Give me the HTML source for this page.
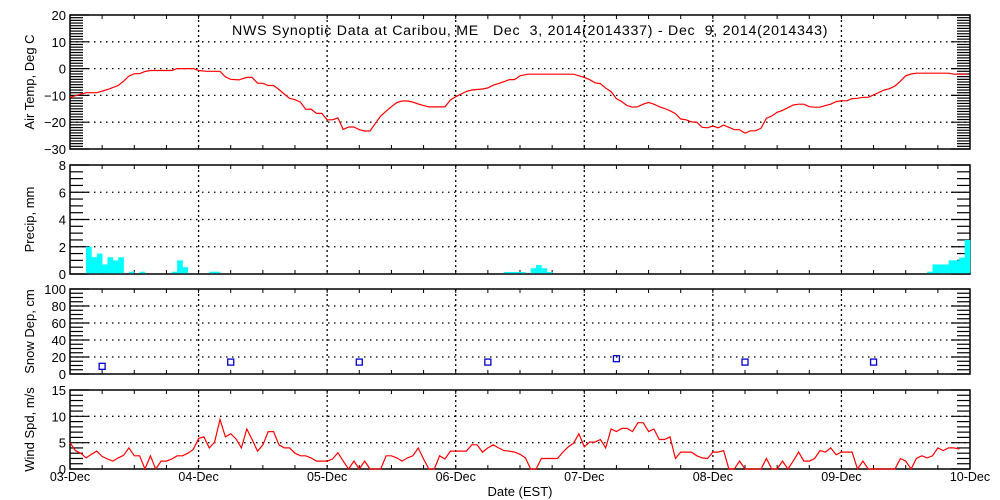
<!DOCTYPE html>
<html><head><meta charset="utf-8"><style>
html,body{margin:0;padding:0;background:#fff;}
svg{display:block;font-family:"Liberation Sans",sans-serif;}
</style></head><body>
<svg id="c" width="1000" height="500" viewBox="0 0 1000 500"></svg>
<script>
const dayLabels=["03-Dec","04-Dec","05-Dec","06-Dec","07-Dec","08-Dec","09-Dec","10-Dec"];
// Air temperature: [hour, degC]
const tempHours=[0,3,5,7,9,10,11,12,13,14,15,19,20,23,24,25.5,28,29,30,31.5,33,34,35,36,37,38,39,40,41,42,43,44,45,46,47,48,49,50,51,52,53,54,55,56,57,58,59,60,61,62,63,64,65,66,67,70,71,72,73,74,75,77,78,79,80,81,82,83,84,85.5,94,96,97,98,99,100,101,102,103,104,105,106,107,108,109,110,111,112,113,114,115,116,117,118,119,120,121,122,123,124,125,126,127,128,129,130,131,132,133,134,135,136,137,138,139,140,141,142,143,144,145,146,147,148,149,150,151,152,153,154,155,156,157,158,164,165,167.5];
const tempVals=[-10.7,-9,-9,-7.8,-6.3,-4.7,-2.8,-1.9,-1.9,-1.1,-0.7,-0.7,0,0,-0.7,-1,-1,-3.1,-4,-4.2,-3.3,-3.3,-5.4,-5.5,-6.3,-6.3,-7.8,-9.5,-11.1,-11.6,-12.5,-15.2,-15.1,-16.7,-16.7,-19.1,-19.1,-18.4,-22.7,-21.8,-21.8,-22.8,-23.3,-23.3,-20.4,-17.7,-15.9,-14.2,-12.7,-12.1,-12.1,-12.5,-13.2,-13.8,-14.3,-14.3,-11.7,-10.5,-9.5,-8.5,-8,-7.6,-7.2,-6.2,-5.6,-4.9,-4.1,-4.1,-2.7,-2.1,-2.1,-3.3,-4.1,-5.3,-5.6,-7.3,-8.6,-11.2,-12.3,-13.8,-14.4,-14.2,-13.3,-12.6,-13.3,-14.2,-14.9,-15.7,-16.8,-18.8,-19.1,-19.9,-20,-21.9,-22.1,-21.4,-22.1,-21.1,-21.9,-22.8,-22.8,-24.1,-23.2,-23.2,-22.2,-18.5,-17.7,-16.3,-15.6,-14.6,-13.6,-13.3,-13.3,-14.2,-14.4,-14.4,-13.8,-13.3,-12.3,-12,-12,-11.2,-11.1,-10.7,-10.7,-9.8,-8.9,-8,-7.5,-6.5,-4.7,-2.7,-2,-1.7,-1.7,-2.1,-2.1];
// Precip hourly bins
const precipHours=[3,4,5,6,7,8,9,11,13,19,20,21,26,27,81,82,83,84,86,87,88,89,160,161,162,163,164,165,166,167];
const precipVals=[2.0,1.23,1.5,0.7,1.23,1.0,1.23,0.17,0.17,0.17,1.0,0.5,0.17,0.17,0.15,0.15,0.15,0.15,0.42,0.66,0.42,0.15,0.17,0.7,0.7,0.7,1.0,1.0,1.2,2.5];
// Snow depth daily obs
const snowHours=[6,30,54,78,102,126,150];
const snowVals=[9,14,14,14,18,14,14];
// Wind speed hourly (h0..h166)
const windVals=[5.0,3.5,3.0,2.1,2.8,3.4,2.4,1.9,1.5,2.1,2.6,4.0,2.5,2.5,0,2.5,0,1.5,1.5,1.9,2.5,2.5,3.0,3.7,5.8,6.1,4.0,5.1,9.4,6.1,6.7,5.7,4.0,7.6,5.6,3.4,4.6,7.1,7.1,4.6,4.0,4.0,3.0,2.5,2.5,2.1,1.5,1.5,1.5,1.9,3.1,1.5,0,1.5,0,1.5,0,0,0,2.5,2.5,2.1,1.5,2.1,2.5,4.0,1.9,0,0,2.5,1.9,3.4,3.4,3.4,3.4,4.6,4.6,3.2,4.0,4.6,4.0,3.5,3.4,3.2,2.8,2.1,0,0,2.0,2.0,2.0,2.0,3.2,4.2,4.9,6.7,4.2,5.1,5.1,5.6,4.0,7.6,7.1,7.7,7.7,7.1,8.8,8.8,7.1,7.6,5.6,5.6,6.1,2.0,3.2,3.2,3.2,2.5,2.1,2.0,3.2,3.2,3.5,0,0,1.5,0,0,0,0,2.0,0,0,1.5,0,1.5,3.2,1.5,1.5,2.0,3.5,3.2,4.0,2.7,3.2,3.2,3.2,0,1.5,0,0,0,0,0,0,2.0,1.5,0,2.0,2.5,2.1,2.5,4.0,3.5,4.0,4.0,3.8];

const NS="http://www.w3.org/2000/svg";
const svg=document.getElementById('c');
const X0=70,X1=970,HOURS=168;
const xh=h=>X0+(X1-X0)*h/HOURS;
function el(t,a,p){const e=document.createElementNS(NS,t);for(const k in a)e.setAttribute(k,a[k]);(p||svg).appendChild(e);return e;}

const panels=[
 {name:'air-temp',top:15,bot:149,min:-30,max:20,major:10,minor:1,label:'Air Temp, Deg C',ticks:[20,10,0,-10,-20,-30],tickText:['20','10','0','\u221210','\u221220','\u221230']},
 {name:'precip',top:165,bot:274,min:0,max:8,major:2,minor:0.5,label:'Precip, mm',ticks:[8,6,4,2,0],tickText:['8','6','4','2','0']},
 {name:'snow-depth',top:289,bot:374,min:0,max:100,major:20,minor:5,label:'Snow Dep, cm',ticks:[100,80,60,40,20,0],tickText:['100','80','60','40','20','0']},
 {name:'wind-speed',top:390,bot:469,min:0,max:15,major:5,minor:1,label:'Wind Spd, m/s',ticks:[15,10,5,0],tickText:['15','10','5','0']}
];
panels.forEach(p=>{p.y=v=>p.bot-(p.bot-p.top)*(v-p.min)/(p.max-p.min);});

panels.forEach(p=>{
 const g=el('g',{});
 
 
 p.ticks.forEach(v=>{ if(v===p.min||v===p.max) return;
  const l=el('line',{x1:X0,x2:X1,y1:p.y(v),y2:p.y(v),stroke:'#000','stroke-width':1.3,'stroke-dasharray':'1.5,4.5'},g);
  
  
 });
 for(let d=1;d<7;d++){
  const l=el('line',{x1:xh(d*24),x2:xh(d*24),y1:p.top,y2:p.bot,stroke:'#000','stroke-width':1.3,'stroke-dasharray':'2,3'},g);
  
  
 }
 const n=Math.round((p.max-p.min)/p.minor);
 for(let i=0;i<=n;i++){
  const v=p.min+i*p.minor, yy=p.y(v);
  const maj=Math.abs(v/p.major-Math.round(v/p.major))<1e-6;
  const len=maj?19:13;
  el('line',{x1:X0,x2:X0+len,y1:yy,y2:yy,stroke:'#000','stroke-width':1.2},g);
  el('line',{x1:X1,x2:X1-len,y1:yy,y2:yy,stroke:'#000','stroke-width':1.2},g);
 }
 for(let h=6;h<HOURS;h+=6){
  el('line',{x1:xh(h),x2:xh(h),y1:p.top,y2:p.top+4,stroke:'#000','stroke-width':1},g);
  el('line',{x1:xh(h),x2:xh(h),y1:p.bot,y2:p.bot-4,stroke:'#000','stroke-width':1},g);
 }
 const r=el('rect',{x:X0,y:p.top,width:X1-X0,height:p.bot-p.top,fill:'none',stroke:'#000','stroke-width':1.5},g);
 
 
 p.ticks.forEach((v,i)=>{
  const t=el('text',{x:66,y:p.y(v)+5,'text-anchor':'end','font-size':13},g);
  t.textContent=p.tickText[i];
  
  
 });
 const cy=(p.top+p.bot)/2;
 const lab=el('text',{x:34,y:cy,'text-anchor':'middle','font-size':13,transform:'rotate(-90 34 '+cy+')'},g);
 lab.textContent=p.label;
 
 
 p.g=g;
});

{const p=panels[0];
 const pts=tempHours.map((h,i)=>xh(h).toFixed(1)+','+p.y(tempVals[i]).toFixed(1)).join(' ');
 const l=el('polyline',{points:pts,fill:'none',stroke:'#ff0000','stroke-width':1.2},p.g);
 
 }
{const p=panels[1];
 precipHours.forEach((h,i)=>{
  const y=p.y(precipVals[i]);
  const b=el('rect',{x:xh(h),y:y,width:xh(h+1)-xh(h)+0.3,height:p.bot-y-0.8,fill:'#00ffff'},p.g);
  
  
 });}
{const p=panels[2];
 snowHours.forEach((h,i)=>{
  const s=el('rect',{x:xh(h)-3,y:p.y(snowVals[i])-3,width:6,height:6,fill:'none',stroke:'#0000cc','stroke-width':1.3},p.g);
  
  
 });}
{const p=panels[3];
 const pts=windVals.map((v,h)=>xh(h).toFixed(1)+','+p.y(v).toFixed(1)).join(' ');
 const l=el('polyline',{points:pts,fill:'none',stroke:'#ff0000','stroke-width':1.2},p.g);
 
 }

dayLabels.forEach((d,i)=>{
 const t=el('text',{x:xh(i*24),y:481,'text-anchor':'middle','font-size':12.5});
 t.textContent=d;
 
 
});
const xt=el('text',{x:520,y:496,'text-anchor':'middle','font-size':13});
xt.textContent='Date (EST)';


const ti=el('text',{x:232,y:35,'font-size':14.2,'letter-spacing':0.72,'xml:space':'preserve',style:'white-space:pre'});
ti.textContent='NWS Synoptic Data at Caribou, ME   Dec  3, 2014(2014337) - Dec  9, 2014(2014343)';


</script>
</body></html>
